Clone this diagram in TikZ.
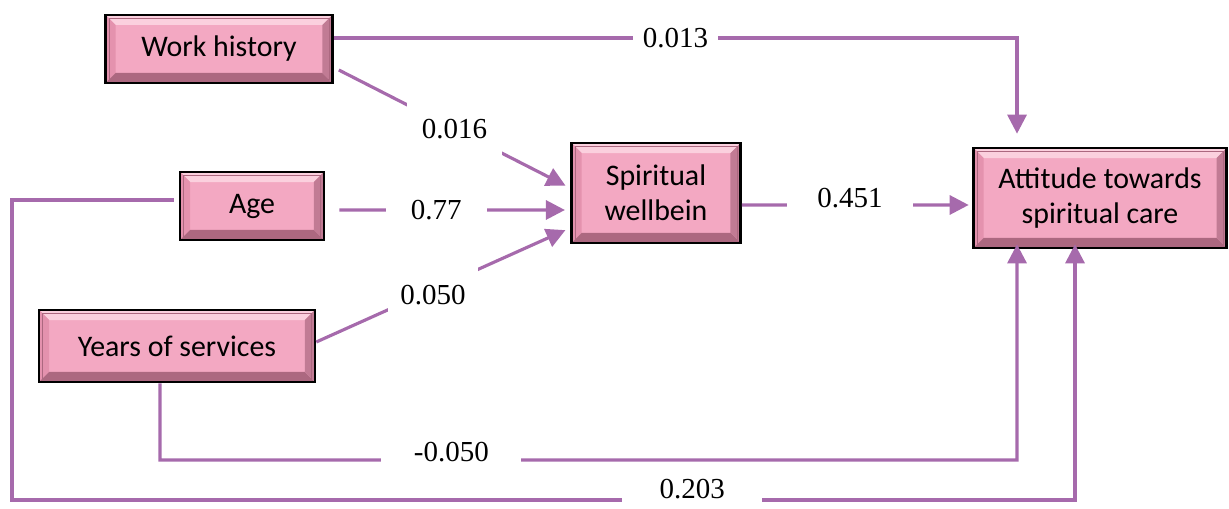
\documentclass[tikz,border=0pt]{standalone}
\usepackage{fontspec}
\setmainfont{Liberation Serif}
\setsansfont{Carlito}
\usetikzlibrary{arrows.meta}
\definecolor{boxpink}{RGB}{243,168,194}
\definecolor{bevlight}{RGB}{251,208,222}
\definecolor{bevmid}{RGB}{228,146,174}
\definecolor{bevdark}{RGB}{172,104,128}
\definecolor{linkpurple}{RGB}{166,106,172}
\tikzset{
  var/.style  = {rectangle, draw=black, line width=1.5pt, fill=boxpink,
                 inner sep=0pt, align=center, font=\sffamily\fontsize{17}{20}\selectfont,
                 path picture={
                   \path[fill=bevlight] (path picture bounding box.north west) -- (path picture bounding box.north east)
                     -- ([shift={(-0.2cm,-0.2cm)}]path picture bounding box.north east) -- ([shift={(0.2cm,-0.2cm)}]path picture bounding box.north west) -- cycle;
                   \path[fill=bevmid] (path picture bounding box.north west) -- (path picture bounding box.south west)
                     -- ([shift={(0.2cm,0.2cm)}]path picture bounding box.south west) -- ([shift={(0.2cm,-0.2cm)}]path picture bounding box.north west) -- cycle;
                   \path[fill=bevdark] (path picture bounding box.south west) -- (path picture bounding box.south east)
                     -- ([shift={(-0.2cm,0.2cm)}]path picture bounding box.south east) -- ([shift={(0.2cm,0.2cm)}]path picture bounding box.south west) -- cycle;
                   \path[fill=bevdark!70!boxpink] (path picture bounding box.north east) -- (path picture bounding box.south east)
                     -- ([shift={(-0.2cm,0.2cm)}]path picture bounding box.south east) -- ([shift={(-0.2cm,-0.2cm)}]path picture bounding box.north east) -- cycle;
                   \draw[bevdark, line width=0.4pt] ([shift={(0.07cm,0.07cm)}]path picture bounding box.south west) rectangle ([shift={(-0.07cm,-0.07cm)}]path picture bounding box.north east);
                 }},
  link/.style = {draw=linkpurple, line width=1.8pt},
  path/.style = {link, -{Triangle[length=0.38cm, width=0.38cm]}},
  coef/.style = {fill=white, inner xsep=0.5cm, inner ysep=0.1cm, font=\fontsize{16.5}{19}\selectfont},
}

\begin{document}
\begin{tikzpicture}[x=0.02cm, y=-0.02cm]
  \useasboundingbox (0,0) rectangle (1229,509);

  \node[var, minimum width=4.54cm, minimum height=1.36cm] (work)  at (219,49)  {Work history};
  \node[var, minimum width=2.88cm, minimum height=1.36cm] (age)   at (252,206) {Age};
  \node[var, minimum width=5.52cm, minimum height=1.44cm] (years) at (177,346) {Years of services};
  \node[var, minimum width=3.38cm, minimum height=2.0cm]  (spirit) at (656,193) {Spiritual\\wellbein};
  \node[var, minimum width=5.06cm, minimum height=2.0cm]  (attit) at (1100,198) {Attitude towards\\spiritual care};

  \coordinate (yrsbot) at (160,460);
  \coordinate (agebot) at (12,500);

  % paths into spiritual wellbeing
  \draw[path, shorten >=3pt] ([shift={(0.1cm,-0.42cm)}]work.east) -- node[coef, inner xsep=0.3cm, inner ysep=0.45cm]{0.016} ([yshift=0.1cm]spirit.west);
  \draw[path, shorten >=3pt] ([xshift=0.28cm,yshift=-0.08cm]age.east) -- node[coef, pos=0.42]{0.77} ([yshift=-0.34cm]spirit.west);
  \draw[path, shorten >=3pt] ([yshift=0.08cm]years.east) -- node[coef, pos=0.46, yshift=-0.12cm, inner xsep=0.25cm, inner ysep=0.5cm]{0.050} ([yshift=-0.7cm]spirit.west);
  \draw[path, shorten >=2pt] ([yshift=-0.24cm]spirit.east) -- node[coef, pos=0.47, yshift=0.14cm, inner xsep=0.6cm, inner ysep=0.3cm]{0.451} ([yshift=-0.14cm]attit.west);

  % direct paths to attitude
  \draw[path, shorten >=0.26cm] ([yshift=0.22cm]work.east) -| node[coef, pos=0.25, inner xsep=0.2cm]{0.013} ([xshift=-1.66cm]attit.north);
  \draw[path, shorten >=-0.1cm] ([xshift=-0.34cm]years.south) -- (yrsbot) -| node[coef, pos=0.17, yshift=0.16cm, inner xsep=0.65cm]{-0.050} ([xshift=-1.66cm]attit.south);
  \draw[path, shorten >=-0.1cm] ([xshift=-0.1cm,yshift=0.12cm]age.west) -| (agebot) -| node[coef, pos=0.32, yshift=0.22cm, inner xsep=0.75cm, inner ysep=0.14cm]{0.203} ([xshift=-0.5cm]attit.south);
\end{tikzpicture}
\end{document}
